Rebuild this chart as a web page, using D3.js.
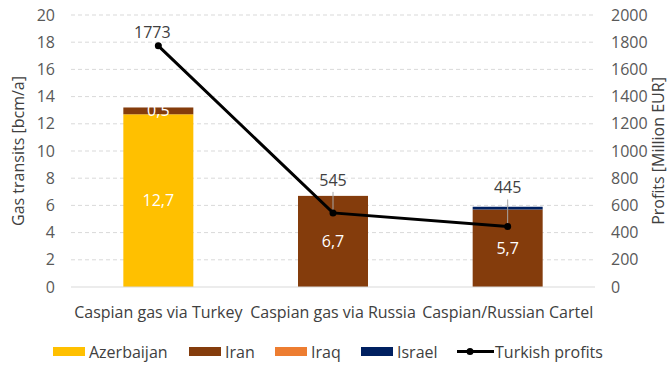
<!DOCTYPE html>
<html>
<head>
<meta charset="utf-8">
<script src="https://cdn.jsdelivr.net/npm/d3@7"></script>
<style>
  html, body { margin: 0; padding: 0; background: #fff; }
  svg { display: block; font-family: "Open Sans", "Liberation Sans", sans-serif; }
</style>
</head>
<body>
<svg id="chart" width="671" height="365"></svg>
<script>
// Scenarios and stacked gas transits (bcm/a)
const categories = ["Caspian gas via Turkey", "Caspian gas via Russia", "Caspian/Russian Cartel"];
const azerbaijan = [12.7, 0, 0];
const iran = [0.5, 6.7, 5.7];
const iraq = [0, 0, 0];
const israel = [0, 0, 0.2];
// Turkish profits (Million EUR)
const turkishProfits = [1773, 545, 445];
const leftTicks = [0, 2, 4, 6, 8, 10, 12, 14, 16, 18, 20];
const rightTicks = [0, 200, 400, 600, 800, 1000, 1200, 1400, 1600, 1800, 2000];

const seriesNames = ["Azerbaijan", "Iran", "Iraq", "Israel"];
const seriesValues = [azerbaijan, iran, iraq, israel];
const colors = ["#FFC000", "#843C0C", "#ED7D31", "#002060"];

const FS = 16;
const svg = d3.select("#chart");
const m = { left: 71, right: 595, top: 15, bottom: 287 };

const x = d3.scaleBand().domain(categories).range([m.left, m.right]).paddingInner(0.6).paddingOuter(0.3);
const y = d3.scaleLinear().domain([0, 20]).range([m.bottom, m.top]);
const y2 = d3.scaleLinear().domain([0, 2000]).range([m.bottom, m.top]);
const xc = d3.scalePoint().domain(categories).range([m.left, m.right]).padding(0.5);

// Gridlines
svg.append("g").selectAll("line").data(leftTicks.filter(t => t > 0)).join("line")
  .attr("x1", m.left).attr("x2", m.right)
  .attr("y1", d => y(d)).attr("y2", d => y(d))
  .attr("stroke", "#d9d9d9").attr("stroke-width", 1).attr("stroke-dasharray", "4,3");

// Left axis
const yAxis = svg.append("g").attr("transform", `translate(${m.left},0)`)
  .call(d3.axisLeft(y).tickValues(leftTicks).tickSize(0).tickPadding(16));
yAxis.select(".domain").remove();
yAxis.selectAll("text").attr("font-size", FS).attr("fill", "#595959")
  .attr("font-family", "Open Sans, sans-serif");

// Right axis
const y2Axis = svg.append("g").attr("transform", `translate(${m.right},0)`)
  .call(d3.axisRight(y2).tickValues(rightTicks).tickFormat(d3.format("d")).tickSize(0).tickPadding(16));
y2Axis.select(".domain").remove();
y2Axis.selectAll("text").attr("font-size", FS).attr("fill", "#595959")
  .attr("font-family", "Open Sans, sans-serif");

// Stacked bars
const rows = categories.map((c, i) => {
  const r = { cat: c };
  seriesNames.forEach((s, k) => r[s] = seriesValues[k][i]);
  return r;
});
const stacked = d3.stack().keys(seriesNames)(rows);
const bw = 70;
svg.append("g").selectAll("g").data(stacked).join("g")
  .attr("fill", (d, i) => colors[i])
  .selectAll("rect").data(d => d).join("rect")
  .attr("x", d => x(d.data.cat) + x.bandwidth() / 2 - bw / 2)
  .attr("width", bw)
  .attr("y", d => y(d[1]))
  .attr("height", d => y(d[0]) - y(d[1]));

// Baseline
svg.append("line").attr("x1", m.left).attr("x2", m.right)
  .attr("y1", y(0)).attr("y2", y(0)).attr("stroke", "#d9d9d9");

// Bar value labels (white)
const segLabels = [];
stacked.forEach(layer => layer.forEach(d => {
  const v = d[1] - d[0];
  if (v >= 0.5 && layer.key !== "Israel") segLabels.push({ cat: d.data.cat, v, mid: (d[0] + d[1]) / 2 });
}));
svg.append("g").selectAll("text").data(segLabels).join("text")
  .attr("x", d => x(d.cat) + x.bandwidth() / 2)
  .attr("y", d => y(d.mid))
  .attr("dy", "0.35em")
  .attr("text-anchor", "middle")
  .attr("font-size", FS).attr("fill", "#fff")
  .text(d => d3.format(".1f")(d.v).replace(".", ","));

// Leader lines for profit callouts
const callOffsets = [-8, -27, -33];
svg.append("g").selectAll("line").data(turkishProfits).join("line")
  .attr("x1", (d, i) => xc(categories[i])).attr("x2", (d, i) => xc(categories[i]))
  .attr("y1", (d, i) => y2(d) + callOffsets[i] + 6)
  .attr("y2", d => y2(d))
  .attr("stroke", "#a6a6a6").attr("stroke-width", 1)
  .attr("display", (d, i) => i === 0 ? "none" : null);

// Profit line
const line = d3.line().x((d, i) => xc(categories[i])).y(d => y2(d));
svg.append("path").datum(turkishProfits)
  .attr("d", line).attr("fill", "none").attr("stroke", "#000").attr("stroke-width", 3);
svg.append("g").selectAll("circle").data(turkishProfits).join("circle")
  .attr("cx", (d, i) => xc(categories[i])).attr("cy", d => y2(d)).attr("r", 3.5).attr("fill", "#000");

svg.append("g").selectAll("text").data(turkishProfits).join("text")
  .attr("x", (d, i) => xc(categories[i]) + (i === 0 ? -6 : 0))
  .attr("y", (d, i) => y2(d) + callOffsets[i])
  .attr("text-anchor", "middle")
  .attr("font-size", FS).attr("fill", "#404040")
  .text(d => d);

// Category labels
svg.append("g").selectAll("text").data(categories).join("text")
  .attr("x", d => xc(d)).attr("y", 318)
  .attr("text-anchor", "middle")
  .attr("font-size", FS).attr("fill", "#404040")
  .text(d => d);

// Axis titles
svg.append("text").attr("transform", "translate(24,151) rotate(-90)")
  .attr("text-anchor", "middle").attr("font-size", FS).attr("fill", "#404040")
  .text("Gas transits [bcm/a]");
svg.append("text").attr("transform", "translate(664,151) rotate(-90)")
  .attr("text-anchor", "middle").attr("font-size", FS).attr("fill", "#404040")
  .text("Profits [Million EUR]");

// Legend
const legend = [
  { name: "Azerbaijan", color: colors[0], x: 53 },
  { name: "Iran", color: colors[1], x: 189 },
  { name: "Iraq", color: colors[2], x: 275 },
  { name: "Israel", color: colors[3], x: 361 }
];
const lg = svg.append("g");
lg.selectAll("rect").data(legend).join("rect")
  .attr("x", d => d.x).attr("y", 347).attr("width", 32).attr("height", 9).attr("fill", d => d.color);
lg.selectAll("text").data(legend).join("text")
  .attr("x", d => d.x + 36).attr("y", 358).attr("font-size", FS).attr("fill", "#404040")
  .text(d => d.name);
lg.append("line").attr("x1", 457).attr("x2", 494).attr("y1", 351.5).attr("y2", 351.5)
  .attr("stroke", "#000").attr("stroke-width", 3);
lg.append("circle").attr("cx", 470).attr("cy", 351.5).attr("r", 3.5).attr("fill", "#000");
lg.append("text").attr("x", 495).attr("y", 358).attr("font-size", FS).attr("fill", "#404040")
  .text("Turkish profits");
</script>
</body>
</html>
